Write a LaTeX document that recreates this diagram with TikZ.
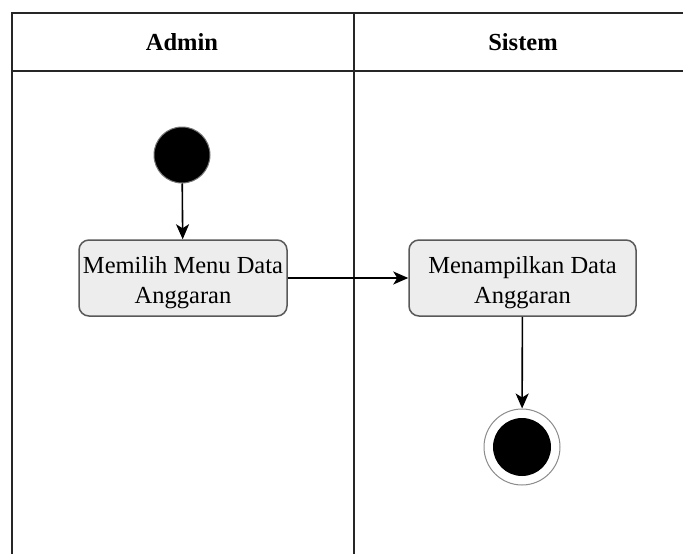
\documentclass[tikz,border=0pt]{standalone}
\usepackage{fontspec}
\setmainfont{Liberation Serif}
\usetikzlibrary{arrows.meta}
\begin{document}
\begin{tikzpicture}[x=1pt,y=-1pt,
  frame/.style={draw=black!85,line width=2pt},
  actbox/.style={draw=black!65,line width=1.5pt,fill=black!7,rounded corners=10pt,
    minimum width=208pt,minimum height=76pt,align=center,inner sep=0pt,
    font=\fontsize{24.5}{30}\selectfont},
  lanehead/.style={font=\fontsize{24.5}{30}\selectfont\bfseries},
  flow/.style={draw=black,line width=1.6pt,-{Stealth[length=15pt,width=13pt,inset=4pt]}}]
\useasboundingbox (0,0) rectangle (683,554);
\fill[white] (0,0) rectangle (683,554);
% swimlane frame
\draw[frame] (12,554) -- (12,13) -- (683,13);
\draw[frame] (12,71) -- (683,71);
\draw[frame] (354,13) -- (354,554);
\node[lanehead] (hadmin) at (182,42) {Admin};
\node[lanehead] (hsistem) at (523,42) {Sistem};
% nodes
\node[circle,fill=black,draw=black!55,line width=1pt,minimum size=56pt,inner sep=0pt] (start) at (182,155) {};
\node[actbox] (a1) at (183,278) {\rule{0pt}{26pt}Memilih Menu Data\\Anggaran};
\node[actbox,minimum width=227pt] (a2) at (522.5,278) {\rule{0pt}{26pt}Menampilkan Data\\Anggaran};
\node[circle,draw=black!45,line width=1pt,fill=white,minimum size=76pt,inner sep=0pt] (endo) at (522,447) {};
\node[circle,fill=black,minimum size=58pt,inner sep=0pt] (endi) at (endo) {};
% connectors
\draw[flow] (start) -- (a1);
\draw[flow] (a1) -- (a2);
\draw[flow] (a2) -- (endo);
\end{tikzpicture}
\end{document}
